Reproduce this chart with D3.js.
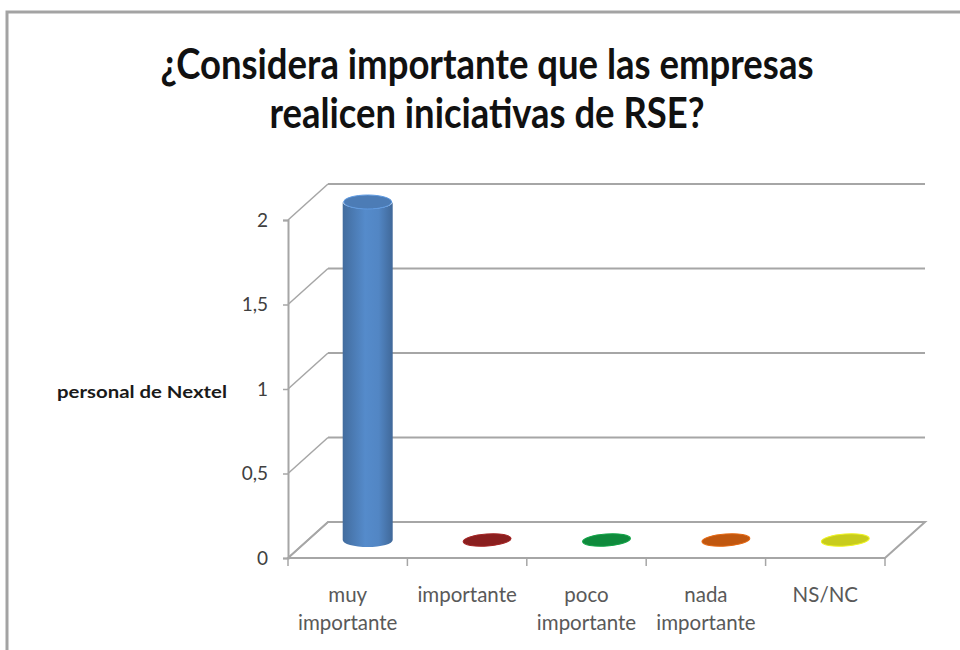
<!DOCTYPE html>
<html>
<head>
<meta charset="utf-8">
<script src="https://cdn.jsdelivr.net/npm/d3@7"></script>
<style>
  html, body { margin: 0; padding: 0; background: #fff; }
  svg { display: block; }
  text { font-family: Lato, "Open Sans", sans-serif; }
</style>
</head>
<body>
<svg id="chart" width="960" height="650"></svg>
<script>
// Chart content
const titleLines = ["¿Considera importante que las empresas", "realicen iniciativas de RSE?"];
const seriesName = "personal de Nextel";
const categories = ["muy importante", "importante", "poco importante", "nada importante", "NS/NC"];
const values = [2, 0, 0, 0, 0];
const barColors = ["#4f81bd", "#8a1f1f", "#0f8a3c", "#c0570f", "#c8cc1c"];
const yTicks = [0, 0.5, 1, 1.5, 2];

const svg = d3.select("#chart");
const W = 960, H = 650;

// Outer chart frame
svg.append("rect")
  .attr("x", 7).attr("y", 12)
  .attr("width", W).attr("height", H)
  .attr("fill", "#fff")
  .attr("stroke", "#a3a3a3").attr("stroke-width", 3);

// Title (two centred lines, condensed)
const titleWidths = [653, 435];
svg.selectAll("text.title")
  .data(titleLines)
  .join("text")
  .attr("class", "title")
  .attr("x", 487)
  .attr("y", (d, i) => 79 + i * 49)
  .attr("text-anchor", "middle")
  .attr("font-size", 42)
  .attr("font-weight", 700)
  .attr("fill", "#111")
  .attr("textLength", (d, i) => titleWidths[i])
  .attr("lengthAdjust", "spacingAndGlyphs")
  .text(d => d);

// Scales and 3D depth offset
const x = d3.scaleBand().domain(categories).range([288, 885]);
const y = d3.scaleLinear().domain([0, 2]).range([558, 220]);
const DX = 40, DY = -36;

const gridColor = "#a6a6a6";
const g = svg.append("g");

// Floor
const x0 = x.range()[0], x1 = x.range()[1];
g.append("path")
  .attr("d", `M${x0},${y(0)} L${x1},${y(0)} L${x1 + DX},${y(0) + DY} L${x0 + DX},${y(0) + DY} Z`)
  .attr("fill", "#fff")
  .attr("stroke", gridColor).attr("stroke-width", 2);

// Back wall gridlines and side wall diagonals
yTicks.forEach(t => {
  g.append("line")
    .attr("x1", x0 + DX).attr("x2", x1 + DX)
    .attr("y1", y(t) + DY).attr("y2", y(t) + DY)
    .attr("stroke", gridColor).attr("stroke-width", 2);
  g.append("line")
    .attr("x1", x0).attr("x2", x0 + DX)
    .attr("y1", y(t)).attr("y2", y(t) + DY)
    .attr("stroke", gridColor).attr("stroke-width", 1.5);
});

// Value axis
const locale = d3.formatLocale({ decimal: ",", thousands: ".", grouping: [3], currency: ["", ""] });
const fmt = locale.format("~g");
const yAxis = g.append("g")
  .attr("transform", `translate(${x0},0)`)
  .call(d3.axisLeft(y).tickValues(yTicks).tickFormat(fmt).tickSize(5).tickPadding(15));
yAxis.select(".domain").attr("stroke", gridColor).attr("stroke-width", 2);
yAxis.selectAll(".tick line").attr("stroke", gridColor).attr("stroke-width", 1.5);
yAxis.selectAll(".tick text")
  .attr("font-size", 19)
  .attr("font-family", "Lato, sans-serif")
  .attr("fill", "#404040");

// Category boundary ticks along the front floor edge
const bounds = categories.map(c => x(c)).concat([x1]);
g.selectAll("line.cat-tick")
  .data(bounds)
  .join("line")
  .attr("class", "cat-tick")
  .attr("x1", d => d).attr("x2", d => d)
  .attr("y1", y(0)).attr("y2", y(0) + 8)
  .attr("stroke", gridColor).attr("stroke-width", 1.5);

// Category labels (wrapped into two lines where needed)
const splitLabel = c => {
  const parts = c.split(" ");
  return parts.length > 1 ? [parts.slice(0, -1).join(" "), parts[parts.length - 1]] : [c];
};
const labels = g.selectAll("text.cat")
  .data(categories)
  .join("text")
  .attr("class", "cat")
  .attr("text-anchor", "middle")
  .attr("font-size", 20.5)
  .attr("fill", "#595959")
  .attr("transform", d => `translate(${x(d) + x.bandwidth() / 2},602)`);
labels.selectAll("tspan")
  .data(d => splitLabel(d))
  .join("tspan")
  .attr("x", 0)
  .attr("dy", (d, i) => i === 0 ? 0 : 28)
  .text(d => d);

// Series name on the left
svg.append("text")
  .attr("x", 57).attr("y", 398)
  .attr("font-size", 17.5)
  .attr("font-weight", 700)
  .attr("fill", "#1a1a1a")
  .attr("textLength", 170)
  .attr("lengthAdjust", "spacingAndGlyphs")
  .text(seriesName);

// Gradients for cylinder shading
const defs = svg.append("defs");
barColors.forEach((col, i) => {
  const c = d3.color(col);
  const grad = defs.append("linearGradient")
    .attr("id", "cyl" + i)
    .attr("x1", "0%").attr("x2", "100%").attr("y1", "0%").attr("y2", "0%");
  grad.append("stop").attr("offset", "0%").attr("stop-color", c.darker(0.5));
  grad.append("stop").attr("offset", "45%").attr("stop-color", c.brighter(0.2));
  grad.append("stop").attr("offset", "72%").attr("stop-color", c.brighter(0.1));
  grad.append("stop").attr("offset", "100%").attr("stop-color", c.darker(0.6));
});

// Cylinders, centred in the floor depth
const RX = 25, RY = 7;
const bars = g.selectAll("g.bar")
  .data(values.map((v, i) => ({ v, i, c: categories[i] })))
  .join("g")
  .attr("class", "bar")
  .attr("transform", d => `translate(${x(d.c) + x.bandwidth() / 2 + DX / 2},${DY / 2})`);

bars.filter(d => d.v > 0).append("path")
  .attr("d", d => {
    const yt = y(d.v), yb = y(0);
    return `M${-RX},${yt} L${-RX},${yb} A${RX},${RY} 0 0 0 ${RX},${yb} L${RX},${yt} A${RX},${RY} 0 0 1 ${-RX},${yt} Z`;
  })
  .attr("fill", d => `url(#cyl${d.i})`);

bars.append("ellipse")
  .attr("cx", 0)
  .attr("cy", d => y(d.v))
  .attr("rx", RX - 1)
  .attr("ry", d => d.v > 0 ? RY : 6)
  .attr("transform", d => d.v > 0 ? null : `rotate(-4,0,${y(d.v)})`)
  .attr("fill", d => d.v > 0 ? d3.color(barColors[d.i]).darker(0.1) : barColors[d.i])
  .attr("stroke", d => d3.color(barColors[d.i]).brighter(0.5))
  .attr("stroke-width", 1);
</script>
</body>
</html>
